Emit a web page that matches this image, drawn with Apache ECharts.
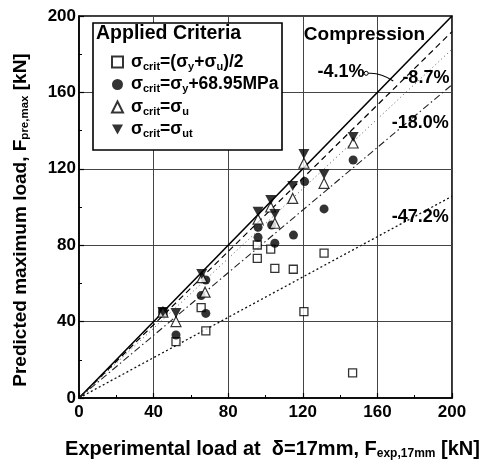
<!DOCTYPE html>
<html><head><meta charset="utf-8">
<script src="https://cdn.jsdelivr.net/npm/echarts@6/dist/echarts.min.js"></script>
<style>html,body{margin:0;padding:0;background:#fff}#c{width:491px;height:461px}</style>
</head><body><div id="c"></div>
<script>
// ---- data ----
const xTickStep = 40;
const axisMax = 200;
// sigma_crit = (sigma_y + sigma_u)/2  (open squares)
const squareData = [[45,45],[52,29.5],[65.5,47.3],[68,35.1],[95.6,80.1],[95.6,73.1],[102.8,77.9],[105,67.9],[114.9,67.4],[120.6,45.2],[131.4,75.8],[146.7,13.2]];
// sigma_crit = sigma_y + 68.95MPa (filled circles)
const circleData = [[45,45],[52,33],[65.5,53.6],[68,61.8],[68,44.3],[96,89.4],[96,84.1],[103.3,90.6],[105,81],[115,85.3],[121,113.3],[131.4,99],[147,124.6]];
// sigma_crit = sigma_u (open triangles)
const triUpData = [[45,45],[52,40],[66,63],[67.6,55.4],[96,93.6],[102.8,100],[105,91.5],[114.6,104.5],[120.6,122.9],[131.4,112.4],[147,133.5]];
// sigma_crit = sigma_ut (filled inverted triangles)
const triDownData = [[45,45],[52,44.5],[65.8,64.9],[96,97.5],[102.8,103.7],[105,96.3],[114.6,111],[120.6,127.8],[131.4,117.1],[147,136.7]];
// reference lines: end value at x = 200
const refLabels = ['', '-4.1%', '-8.7%', '-18.0%', '-47.2%'];
const refEndY = [200, 191.8, 182.6, 164.0, 105.6];

const FONT = "'Liberation Sans', Arial, sans-serif";
const m = {fontFamily: FONT, fontWeight: 'bold', fontSize: 17.5, lineHeight: 19, color: '#000'};
const s = {fontFamily: FONT, fontWeight: 'bold', fontSize: 11, lineHeight: 11, padding: [9,0,0,0], color: '#000'};
const richMS = {m: m, s: s};

const legendText = {
  'sq': '{m|σ}{s|crit}{m|=(σ}{s|y}{m|+σ}{s|u}{m|)/2}',
  'ci': '{m|σ}{s|crit}{m|=σ}{s|y}{m|+68.95MPa}',
  'tu': '{m|σ}{s|crit}{m|=σ}{s|u}',
  'td': '{m|σ}{s|crit}{m|=σ}{s|ut}'
};
const DOWN_TRI = 'path://M0,0 L10,0 L5,9 Z';

const refStyles = [
  {type: 'solid', width: 1.6, color: '#000'},
  {type: [6,4], width: 1.2, color: '#000'},
  {type: [1,3], width: 1, color: '#555'},
  {type: [7,3,1.5,3], width: 1.1, color: '#222'},
  {type: [2,2.5], width: 1.3, color: '#111'}
];

const series = [];
refEndY.forEach((ye, i) => {
  series.push({type: 'line', name: 'ref' + i, data: [[0,0],[axisMax, ye]], showSymbol: false, silent: true,
    lineStyle: refStyles[i], z: 1, legendHoverLink: false});
});
series.push({type: 'scatter', name: 'sq', data: squareData, symbol: 'rect', symbolSize: 8,
  itemStyle: {color: '#fff', borderColor: '#000', borderWidth: 1.3}, z: 3});
series.push({type: 'scatter', name: 'ci', data: circleData, symbol: 'circle', symbolSize: 9,
  itemStyle: {color: '#000'}, z: 4});
series.push({type: 'scatter', name: 'tu', data: triUpData, symbol: 'triangle', symbolSize: 10,
  itemStyle: {color: '#fff', borderColor: '#000', borderWidth: 1.2}, z: 5});
series.push({type: 'scatter', name: 'td', data: triDownData, symbol: DOWN_TRI, symbolSize: [11,10],
  itemStyle: {color: '#000'}, z: 6});

const chart = echarts.init(document.getElementById('c'), null, {renderer: 'canvas'});
const axisCommon = {
  min: 0, max: axisMax, interval: xTickStep,
  axisLine: {show: true, onZero: false, lineStyle: {color: '#000', width: 1.5}},
  axisTick: {show: true, inside: true, length: 5, lineStyle: {color: '#000', width: 1.2}},
  minorTick: {show: true, splitNumber: 2, length: 3, lineStyle: {color: '#000'}},
  splitLine: {show: true, lineStyle: {color: '#444', width: 1}},
  axisLabel: {color: '#000', fontFamily: FONT, fontWeight: 'bold', fontSize: 17}
};
const xTitleRich = {m: Object.assign({}, m, {fontSize: 20, lineHeight: 22}), s: Object.assign({}, s, {fontSize: 12, lineHeight: 12, padding: [10,0,0,0]})};
const yTitleRich = {m: Object.assign({}, m, {fontSize: 19, lineHeight: 21}), s: Object.assign({}, s, {fontSize: 11.5, lineHeight: 12, padding: [9,0,0,0]})};
chart.setOption({
  animation: false,
  backgroundColor: '#fff',
  grid: {left: 79, right: 39, top: 16, bottom: 63, containLabel: false, outerBoundsMode: 'none',
    show: true, borderColor: '#000', borderWidth: 1.6, backgroundColor: 'transparent'},
  xAxis: Object.assign({}, axisCommon, {
    type: 'value',
    axisLabel: Object.assign({}, axisCommon.axisLabel, {margin: 6}),
    name: '{m|Experimental load at  δ=17mm, F}{s|exp,17mm}{m| [kN]}',
    nameLocation: 'middle', nameGap: 40,
    nameTextStyle: {rich: xTitleRich, padding: [0,0,0,14]}
  }),
  yAxis: Object.assign({}, axisCommon, {
    type: 'value',
    axisLabel: Object.assign({}, axisCommon.axisLabel, {margin: 3}),
    name: '{m|Predicted maximum load, F}{s|pre,max}{m| [kN]}',
    nameLocation: 'middle', nameGap: 48,
    nameTextStyle: {rich: yTitleRich, padding: [0,26,0,0]}
  }),
  legend: {
    data: [
      {name: 'sq', icon: 'rect'},
      {name: 'ci', icon: 'circle'},
      {name: 'tu', icon: 'triangle'},
      {name: 'td', icon: DOWN_TRI}
    ],
    orient: 'vertical', left: 106, top: 47, itemGap: 2.5, itemWidth: 11, itemHeight: 11,
    formatter: (name) => legendText[name],
    textStyle: {rich: richMS, padding: [0,0,0,3]},
    selectedMode: false, z: 10
  },
  series: series
});

// annotations placed through the axis scales
const P = (x, y) => chart.convertToPixel({gridIndex: 0}, [x, y]);
const labelPos = [null, [140.5, 170.7], [186, 167.5], [183, 144], [183, 95]];
const LFONT = "bold 18px 'Liberation Sans', Arial";
const g = [];
g.push({type: 'rect', shape: {x: 93, y: 23, width: 189, height: 127}, style: {fill: '#fff', stroke: '#000', lineWidth: 1.6}, z: 5});
g.push({type: 'text', x: 96, y: 34, style: {text: 'Applied Criteria', font: "bold 19.5px 'Liberation Sans', Arial", fill: '#000', textVerticalAlign: 'middle'}, z: 6});
g.push({type: 'text', x: P(120,0)[0] + 1, y: P(0,190)[1], style: {text: 'Compression', font: "bold 19px 'Liberation Sans', Arial", fill: '#000', textVerticalAlign: 'middle'}, z: 20});
for (let i = 1; i < refLabels.length; i++) {
  const p = P(labelPos[i][0], labelPos[i][1]);
  g.push({type: 'text', x: p[0], y: p[1], style: {text: refLabels[i], font: LFONT, fill: '#000', textAlign: 'center', textVerticalAlign: 'middle'}, z: 20});
}
const a = P(154, 170), b = P(168.5, 166);
g.push({type: 'circle', shape: {cx: a[0], cy: a[1], r: 2}, style: {fill: '#fff', stroke: '#000', lineWidth: 1}, z: 20});
g.push({type: 'bezierCurve', shape: {x1: a[0]+2, y1: a[1], x2: b[0], y2: b[1], cpx1: a[0]+14, cpy1: a[1]-1}, style: {stroke: '#000', lineWidth: 1.1, fill: null}, z: 20});
chart.setOption({graphic: g});
</script>
</body></html>
